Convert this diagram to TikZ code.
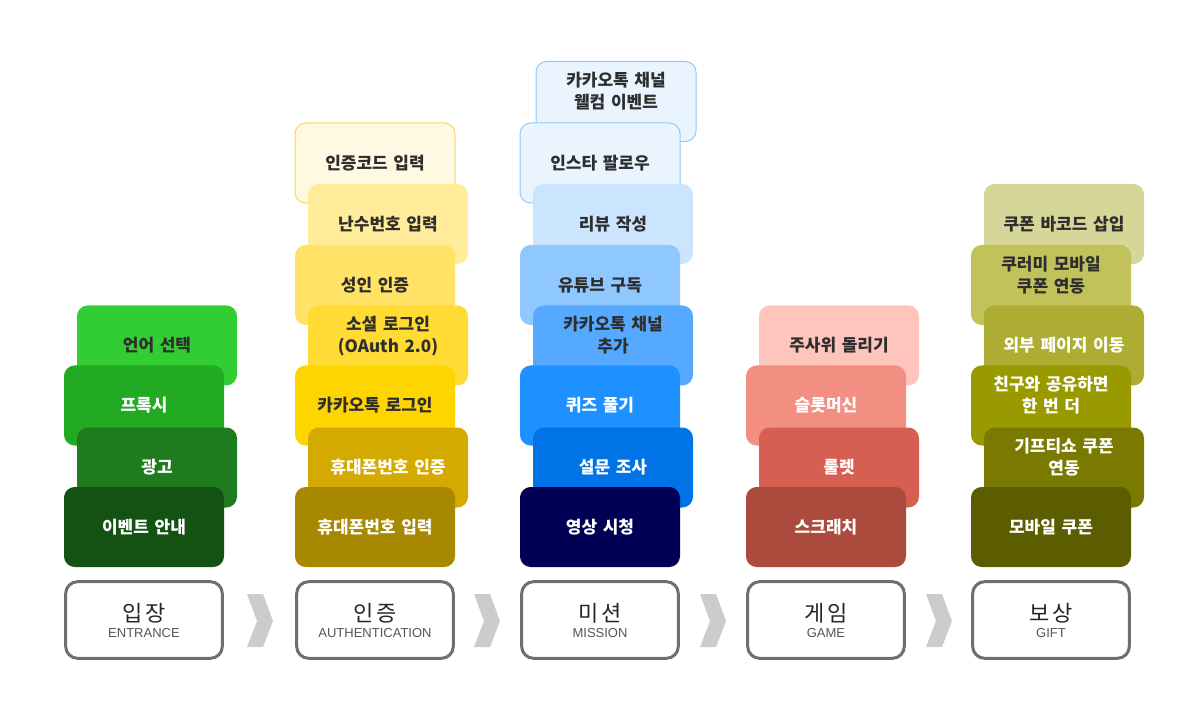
\documentclass[tikz,border=0pt]{standalone}
\usepackage{fontspec}
\setmainfont{Noto Sans CJK KR}
\newfontfamily\engfont{Liberation Sans}
\newfontfamily\stagefont[LetterSpace=12]{Noto Sans CJK KR}

\definecolor{ink}{HTML}{2E2E2E}
\definecolor{stagegray}{HTML}{6E6E6E}
\definecolor{subgray}{HTML}{555555}
\definecolor{chevgray}{HTML}{CCCCCC}
\definecolor{gA}{HTML}{32CD32}
\definecolor{gB}{HTML}{22AA22}
\definecolor{gC}{HTML}{1E7B1E}
\definecolor{gD}{HTML}{145214}
\definecolor{yA}{HTML}{FFF9E3}
\definecolor{yAline}{HTML}{FFD54F}
\definecolor{yB}{HTML}{FFEB99}
\definecolor{yC}{HTML}{FFE266}
\definecolor{yD}{HTML}{FFDB33}
\definecolor{yE}{HTML}{FFD500}
\definecolor{yF}{HTML}{D4AA00}
\definecolor{yG}{HTML}{A88800}
\definecolor{bA}{HTML}{EAF4FF}
\definecolor{bAline}{HTML}{90CAF9}
\definecolor{bB}{HTML}{CCE5FF}
\definecolor{bC}{HTML}{8FC7FF}
\definecolor{bD}{HTML}{55AAFF}
\definecolor{bE}{HTML}{1E90FF}
\definecolor{bF}{HTML}{0073E6}
\definecolor{bG}{HTML}{000055}
\definecolor{rA}{HTML}{FFC5BD}
\definecolor{rB}{HTML}{F28F82}
\definecolor{rC}{HTML}{D75F51}
\definecolor{rD}{HTML}{AD4A3E}
\definecolor{oA}{HTML}{D6D699}
\definecolor{oB}{HTML}{C2C25B}
\definecolor{oC}{HTML}{ADAD33}
\definecolor{oD}{HTML}{999900}
\definecolor{oE}{HTML}{7A7A00}
\definecolor{oF}{HTML}{5C5C00}

\tikzset{
  card/.style={rounded corners=8pt, minimum width=120pt, minimum height=60pt,
    inner sep=0pt, text width=116pt, align=center,
    font=\fontsize{12.75pt}{16.5pt}\selectfont\bfseries},
  lite/.style={card, text=ink},
  dark/.style={card, text=white},
  twoline/.style={text depth=33pt},
  stage/.style={draw=stagegray, line width=2.25pt, fill=white, rounded corners=9pt,
    minimum width=117.5pt, minimum height=57.5pt, inner sep=0pt, align=center},
  chev/.style={fill=chevgray}
}
\newcommand{\stagetitle}[1]{{\stagefont\fontsize{16.5pt}{16.5pt}\selectfont\color{black!85}#1}}
\newcommand{\stagesub}[1]{{\engfont\fontsize{9.75pt}{16pt}\selectfont\color{subgray}#1}}

\begin{document}
\begin{tikzpicture}[x=0.75pt,y=-0.75pt]
\useasboundingbox (0,0) rectangle (1200,720);

\node[lite, fill=gA] (lang) at (157,345.5) {언어 선택};
\node[dark, fill=gB] (proxy) at (144,405.5) {프록시};
\node[dark, fill=gC] (ad) at (157,467.5) {광고};
\node[dark, fill=gD] (notice) at (144,527) {이벤트 안내};

\node[lite, fill=yA, draw=yAline, line width=0.75pt] (authcode) at (375,163) {인증코드 입력};
\node[lite, fill=yB] (randnum) at (388,224) {난수번호 입력};
\node[lite, fill=yC] (adult) at (375,285) {성인 인증};
\node[lite, twoline, fill=yD] (oauth) at (388,345.5) {소셜 로그인\\(OAuth 2.0)};
\node[lite, fill=yE] (kakaologin) at (375,405.5) {카카오톡 로그인};
\node[dark, fill=yF] (phoneauth) at (388,467.5) {휴대폰번호 인증};
\node[dark, fill=yG] (phonein) at (375,527) {휴대폰번호 입력};

\node[lite, twoline, fill=bA, draw=bAline, line width=0.75pt] (welcome) at (616,101.5) {카카오톡 채널\\웰컴 이벤트};
\node[lite, fill=bA, draw=bAline, line width=0.75pt] (insta) at (600,163) {인스타 팔로우};
\node[lite, fill=bB] (review) at (613,224) {리뷰 작성};
\node[lite, fill=bC] (youtube) at (600,285) {유튜브 구독};
\node[lite, twoline, fill=bD] (channel) at (613,345.5) {카카오톡 채널\\추가};
\node[dark, fill=bE] (quiz) at (600,405.5) {퀴즈 풀기};
\node[dark, fill=bF] (survey) at (613,467.5) {설문 조사};
\node[dark, fill=bG] (video) at (600,527) {영상 시청};

\node[lite, fill=rA] (dice) at (839,345.5) {주사위 돌리기};
\node[dark, fill=rB] (slot) at (826,405.5) {슬롯머신};
\node[dark, fill=rC] (roulette) at (839,467.5) {룰렛};
\node[dark, fill=rD] (scratch) at (826,527) {스크래치};

\node[lite, fill=oA] (barcode) at (1064,224) {쿠폰 바코드 삽입};
\node[lite, twoline, fill=oB] (kurumi) at (1051,285) {쿠러미 모바일\\쿠폰 연동};
\node[dark, fill=oC] (external) at (1064,345.5) {외부 페이지 이동};
\node[dark, twoline, fill=oD] (share) at (1051,405.5) {친구와 공유하면\\한 번 더};
\node[dark, twoline, fill=oE] (gifticon) at (1064,467.5) {기프티쇼 쿠폰\\연동};
\node[dark, fill=oF] (mcoupon) at (1051,527) {모바일 쿠폰};

\node[stage] (entrance) at (144,620) {\stagetitle{입장}\\\stagesub{ENTRANCE}};
\node[stage] (auth) at (375,620) {\stagetitle{인증}\\\stagesub{AUTHENTICATION}};
\node[stage] (mission) at (600,620) {\stagetitle{미션}\\\stagesub{MISSION}};
\node[stage] (game) at (826,620) {\stagetitle{게임}\\\stagesub{GAME}};
\node[stage] (gift) at (1051,620) {\stagetitle{보상}\\\stagesub{GIFT}};

\foreach \cx in {260,487,713,939}
  \fill[chev] (\cx-13,594) -- (\cx+3,594) -- (\cx+13,621) -- (\cx+3,647)
    -- (\cx-13,647) -- (\cx-3,621) -- cycle;
\end{tikzpicture}
\end{document}
